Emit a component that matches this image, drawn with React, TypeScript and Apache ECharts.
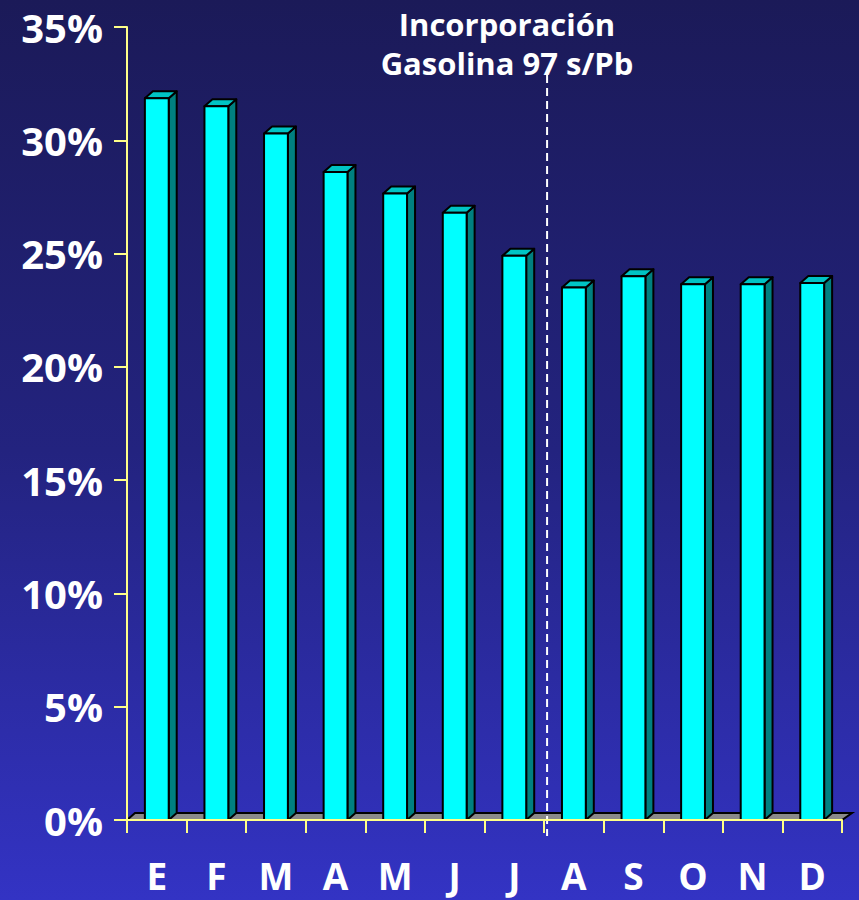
import React, { useEffect, useRef } from "react";
import * as echarts from "echarts";

const months = ["E", "F", "M", "A", "M", "J", "J", "A", "S", "O", "N", "D"];
const shares = [31.85, 31.5, 30.3, 28.6, 27.65, 26.8, 24.9, 23.5, 24.0, 23.65, 23.65, 23.7];
const yTicks = [0, 5, 10, 15, 20, 25, 30, 35];
const noteLines = ["Incorporación", "Gasolina 97 s/Pb"];
const dividerAfterIndex = 6;

const FONT = "'Comic Sans MS', 'Open Sans', 'DejaVu Sans', sans-serif";
const DX = 8;
const DY = 7;

export default function App() {
  const ref = useRef<HTMLDivElement>(null);
  useEffect(() => {
    if (!ref.current) return;
    const chart = echarts.init(ref.current, null, { renderer: "svg" });
    const option: any = {
      animation: false,
      backgroundColor: {
        type: "linear", x: 0, y: 0, x2: 0, y2: 1,
        colorStops: [
          { offset: 0, color: "#1b1a58" },
          { offset: 0.5, color: "#23237f" },
          { offset: 1, color: "#3333c4" },
        ],
      },
      grid: { left: 127, right: 17, top: 27, bottom: 80 },
      xAxis: {
        type: "category",
        data: months,
        z: 10,
        axisLine: { lineStyle: { color: "#ffff88", width: 2 } },
        axisTick: { show: true, length: 13, lineStyle: { color: "#ffff88", width: 2 } },
        axisLabel: {
          color: "#ffffff", fontSize: 37, fontWeight: "bold", fontFamily: FONT,
          margin: 41, lineHeight: 28,
        },
      },
      yAxis: {
        type: "value",
        min: 0,
        max: 35,
        interval: 5,
        z: 10,
        splitLine: { show: false },
        axisLine: { show: true, lineStyle: { color: "#ffff88", width: 2 } },
        axisTick: { show: true, length: 13, lineStyle: { color: "#ffff88", width: 2 } },
        axisLabel: {
          color: "#ffffff", fontSize: 40, fontWeight: "bold", fontFamily: FONT, margin: 24,
          formatter: (v: number) => (yTicks.includes(v) ? v + "%" : ""),
        },
      },
      series: [
        {
          type: "custom",
          z: 1,
          data: [[0, 0]],
          silent: true,
          renderItem: (params: any, api: any) => {
            const band = api.size([1, 0])[0];
            const first = api.coord([0, 0]);
            const last = api.coord([months.length - 1, 0]);
            const x0 = first[0] - band / 2;
            const x1 = last[0] + band / 2;
            const y0 = first[1];
            const a = api.coord([dividerAfterIndex, 0])[0];
            const b = api.coord([dividerAfterIndex + 1, 0])[0];
            const dxl = (a + b) / 2 + 3;
            const yTop = api.coord([0, 35])[1];
            return {
              type: "group",
              children: [
                {
                  type: "polygon",
                  shape: { points: [[x0, y0], [x0 + DX, y0 - DY], [x1 + DX + 2, y0 - DY], [x1, y0]] },
                  style: { fill: "#8a8a8a", stroke: "#000000", lineWidth: 2 },
                },
                {
                  type: "line",
                  z2: 50,
                  shape: { x1: dxl, y1: yTop + 48, x2: dxl, y2: y0 + 16 },
                  style: { stroke: "#ffffff", lineWidth: 2, lineDash: [8, 5] },
                },
              ],
            };
          },
        },
        {
          type: "custom",
          z: 3,
          data: shares.map((v, i) => [i, v]),
          encode: { x: 0, y: 1 },
          renderItem: (params: any, api: any) => {
            const i = api.value(0);
            const v = api.value(1);
            const top = api.coord([i, v]);
            const base = api.coord([i, 0]);
            const w = api.size([1, 0])[0] * 0.4;
            const x = top[0] - w / 2;
            const y = top[1];
            const y0 = base[1];
            const st = { stroke: "#000000", lineWidth: 2, lineJoin: "round" };
            return {
              type: "group",
              children: [
                {
                  type: "polygon",
                  shape: { points: [[x + w, y], [x + w + DX, y - DY], [x + w + DX, y0 - DY], [x + w, y0]] },
                  style: { fill: "#008080", ...st },
                },
                {
                  type: "polygon",
                  shape: { points: [[x, y], [x + DX, y - DY], [x + w + DX, y - DY], [x + w, y]] },
                  style: { fill: "#00c4c4", ...st },
                },
                {
                  type: "rect",
                  shape: { x, y, width: w, height: y0 - y },
                  style: { fill: "#00ffff", ...st },
                },
              ],
            };
          },
        },
      ],
      graphic: [
        {
          type: "text",
          x: 507,
          y: 4,
          style: {
            text: noteLines.join("\n"),
            fill: "#ffffff",
            font: `bold 31px ${FONT}`,
            align: "center",
            verticalAlign: "top",
            lineHeight: 39,
          },
        },
      ],
    };
    chart.setOption(option);
    return () => chart.dispose();
  }, []);
  return <div ref={ref} style={{ position: "fixed", left: 0, top: 0, width: 859, height: 900 }} />;
}
